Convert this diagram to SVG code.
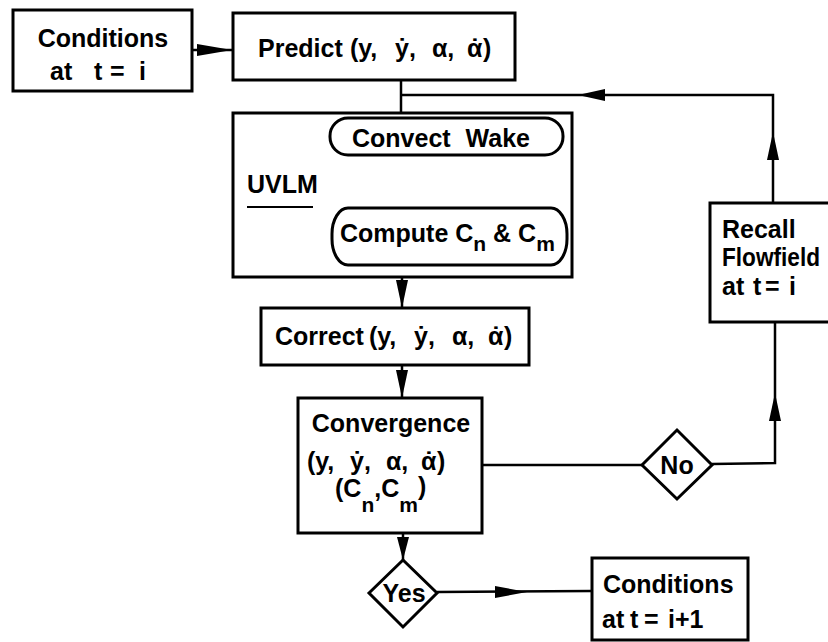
<svg xmlns="http://www.w3.org/2000/svg" width="828" height="642" viewBox="0 0 828 642">
<style>
.box{fill:#fff;stroke:#000;stroke-width:3}
.ln{fill:none;stroke:#000;stroke-width:2.5}
.ah{fill:#000;stroke:none}
text{font-family:"Liberation Sans",Arial,sans-serif;font-size:25px;font-weight:bold;fill:#000}
.sub{font-size:21px}
</style>
<rect width="828" height="642" fill="#fff"/>
<g id="connectors">
<line class="ln" x1="192" y1="50" x2="233" y2="50"/>
<polygon class="ah" points="232,50 197,44 197,56"/>
<line class="ln" x1="401" y1="80" x2="401" y2="113"/>
<polyline class="ln" points="401,95 773,95 773,203"/>
<polygon class="ah" points="578,95 605,89 605,101"/>
<polygon class="ah" points="773,132 767,160 779,160"/>
<line class="ln" x1="448" y1="155" x2="448" y2="208"/>
<polygon class="ah" points="448,208 442,180 454,180"/>
<line class="ln" x1="402" y1="277" x2="402" y2="308"/>
<polygon class="ah" points="402,308 396,280 408,280"/>
<line class="ln" x1="402" y1="365" x2="402" y2="398"/>
<polygon class="ah" points="402,398 396,370 408,370"/>
<line class="ln" x1="482" y1="465" x2="642" y2="465"/>
<polyline class="ln" points="712,464 775,463 775,322"/>
<polygon class="ah" points="775,393 769,421 781,421"/>
<line class="ln" x1="403" y1="533" x2="403" y2="560"/>
<polygon class="ah" points="403,560 397,537 409,537"/>
<line class="ln" x1="437" y1="592" x2="592" y2="591"/>
<polygon class="ah" points="527,592 495,586 495,598"/>
</g>
<g id="cond0">
<rect class="box" x="13" y="10" width="179" height="81"/>
<text x="103" y="47" text-anchor="middle">Conditions</text>
<text y="80"><tspan x="50">at</tspan><tspan x="94">t</tspan><tspan x="110">=</tspan><tspan x="139">i</tspan></text>
</g>
<g id="predict">
<rect class="box" x="233" y="13" width="282" height="67"/>
<text y="57"><tspan x="258">Predict</tspan><tspan x="350">(y,</tspan><tspan x="395">ẏ,</tspan><tspan x="432">α,</tspan><tspan x="467">α</tspan><tspan dx="-11.7">˙</tspan><tspan dx="4">)</tspan></text>
</g>
<g id="uvlm">
<rect class="box" x="233" y="113" width="339" height="164"/>
<text x="247" y="193">UVLM</text>
<line x1="247" y1="207" x2="313" y2="207" stroke="#000" stroke-width="2"/>
</g>
<g id="convect">
<rect class="box" x="330" y="118" width="233" height="37" rx="18"/>
<text x="441" y="147" text-anchor="middle" word-spacing="8">Convect Wake</text>
</g>
<g id="compute">
<rect class="box" x="332" y="208" width="235" height="57" rx="16" ry="26"/>
<text x="340" y="242">Compute C<tspan class="sub" dy="9">n</tspan><tspan dy="-9"> &amp; C</tspan><tspan class="sub" dy="9">m</tspan></text>
</g>
<g id="correct">
<rect class="box" x="261" y="308" width="268" height="57"/>
<text y="345"><tspan x="275">Correct</tspan><tspan x="369">(y,</tspan><tspan x="414">ẏ,</tspan><tspan x="452">α,</tspan><tspan x="488">α</tspan><tspan dx="-11.7">˙</tspan><tspan dx="4">)</tspan></text>
</g>
<g id="convergence">
<rect class="box" x="298" y="398" width="184" height="135"/>
<text x="391" y="432" text-anchor="middle">Convergence</text>
<text y="470"><tspan x="307">(y,</tspan><tspan x="350">ẏ,</tspan><tspan x="386">α,</tspan><tspan x="421">α</tspan><tspan dx="-11.7">˙</tspan><tspan dx="4">)</tspan></text>
<text x="335" y="497">(C<tspan class="sub" dy="15">n</tspan><tspan dy="-15">,C</tspan><tspan class="sub" dy="15">m</tspan><tspan dy="-17">)</tspan></text>
</g>
<g id="no">
<polygon class="box" points="642,465 677,430 712,465 677,499"/>
<text x="677" y="474" text-anchor="middle">No</text>
</g>
<g id="recall">
<rect class="box" x="710" y="203" width="130" height="119"/>
<text x="722" y="238">Recall</text>
<text x="722" y="266" textLength="98" lengthAdjust="spacingAndGlyphs">Flowfield</text>
<text y="295"><tspan x="722">at</tspan><tspan x="753">t</tspan><tspan x="765">=</tspan><tspan x="789">i</tspan></text>
</g>
<g id="yes">
<polygon class="box" points="369,593 403,560 437,593 403,627"/>
<text x="404" y="602" text-anchor="middle" font-size="23">Yes</text>
</g>
<g id="cond1">
<rect class="box" x="592" y="558" width="156" height="82"/>
<text x="603" y="593">Conditions</text>
<text y="628"><tspan x="602">at</tspan><tspan x="630">t</tspan><tspan x="644">=</tspan><tspan x="668">i+1</tspan></text>
</g>
</svg>
